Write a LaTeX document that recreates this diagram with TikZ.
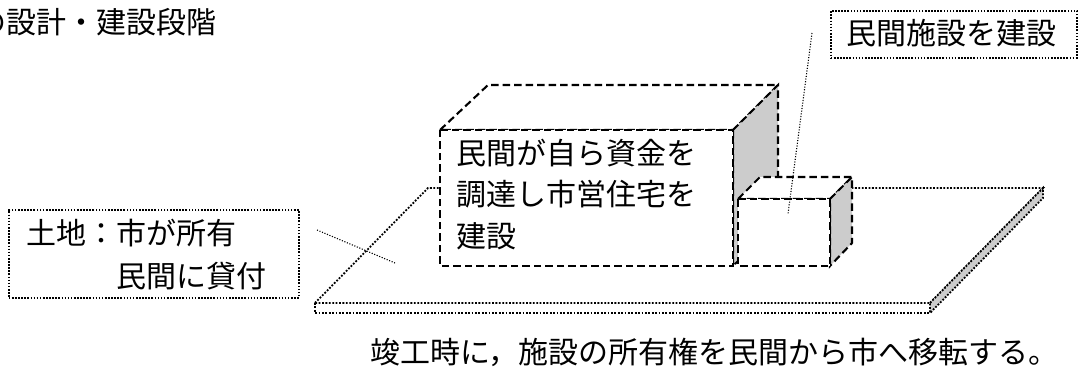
\documentclass[tikz,border=0pt]{standalone}
\usepackage{fontspec}
\newfontfamily\jp{Noto Sans CJK JP}
\begin{document}
\begin{tikzpicture}[x=1pt,y=-1pt,
  txt/.style={inner sep=0pt, anchor=base west, font=\jp\fontsize{30}{36}\selectfont},
  edge/.style={line width=2.1pt, dash pattern=on 7.5pt off 4pt, line join=miter},
  shade/.style={fill=black!20},
  plate/.style={line width=1.8pt, dash pattern=on 1.8pt off 1.6pt},
  leader/.style={line width=1.1pt, dash pattern=on 1.1pt off 1.6pt},
  labelbox/.style={draw, line width=1.6pt, dash pattern=on 1.6pt off 1.5pt,
                   inner sep=0pt, anchor=north west}
]
\useasboundingbox (0,0) rectangle (1082,372);

% ground plate
\coordinate (pBL) at (428,188);
\coordinate (pBR) at (1043,188);
\coordinate (pFR) at (930,303);
\coordinate (pFL) at (315,303);
\coordinate (pFLd) at (315,313);
\coordinate (pFRd) at (930,313);
\coordinate (pBRd) at (1043,198);
\draw[plate] (pFL) -- (pBL) -- (pBR) -- (pFR) -- cycle;
\filldraw[plate, shade] (pFR) -- (pBR) -- (pBRd) -- (pFRd) -- cycle;
\draw[plate] (pFL) -- (pFLd) -- (pFRd);

% large block (municipal housing)
\coordinate (F1) at (440,130);
\coordinate (F2) at (733,130);
\coordinate (F3) at (733,266);
\coordinate (F4) at (440,266);
\coordinate (B1) at (488,85);
\coordinate (B2) at (778,85);
\coordinate (B3) at (778,221);
\filldraw[edge, fill=white] (F1) -- (B1) -- (B2) -- (F2) -- cycle;
\filldraw[edge, shade] (F2) -- (B2) -- (B3) -- (F3) -- cycle;
\filldraw[edge, fill=white] (F1) -- (F2) -- (F3) -- (F4) -- cycle;

% small block (private facility)
\coordinate (S1) at (738,199);
\coordinate (S2) at (830,199);
\coordinate (S3) at (830,266);
\coordinate (S4) at (738,266);
\coordinate (T1) at (760,177);
\coordinate (T2) at (852,177);
\coordinate (T3) at (852,243);
\filldraw[edge, fill=white] (S1) -- (T1) -- (T2) -- (S2) -- cycle;
\filldraw[edge, shade] (S2) -- (T2) -- (T3) -- (S3) -- cycle;
\filldraw[edge, fill=white] (S1) -- (S2) -- (S3) -- (S4) -- cycle;

% heading
\node[txt] (title) at (-23.5,33) {の設計・建設段階};

% text on the large block
\node[txt] (h1) at (456.5,164) {民間が自ら資金を};
\node[txt] (h2) at (456.5,205) {調達し市営住宅を};
\node[txt] (h3) at (456.5,247) {建設};

% label: private facility
\node[labelbox, minimum width=246pt, minimum height=47pt] (pbox) at (830,10) {};
\node[txt] (ptxt) at (846.5,44) {民間施設を建設};
\coordinate (p1) at (812,33);
\coordinate (p2) at (788,214);
\draw[leader] (p1) -- (p2);

% label: land
\node[labelbox, minimum width=290pt, minimum height=88pt] (lbox) at (8,209) {};
\node[txt] (l1) at (26.5,244) {土地：市が所有};
\node[txt] (l2) at (116.5,287) {民間に貸付};
\coordinate (q1) at (317,230);
\coordinate (q2) at (395,263);
\draw[leader] (q1) -- (q2);

% note below
\node[txt] (note) at (370,363) {竣工時に，施設の所有権を民間から市へ移転する。};
\end{tikzpicture}
\end{document}
